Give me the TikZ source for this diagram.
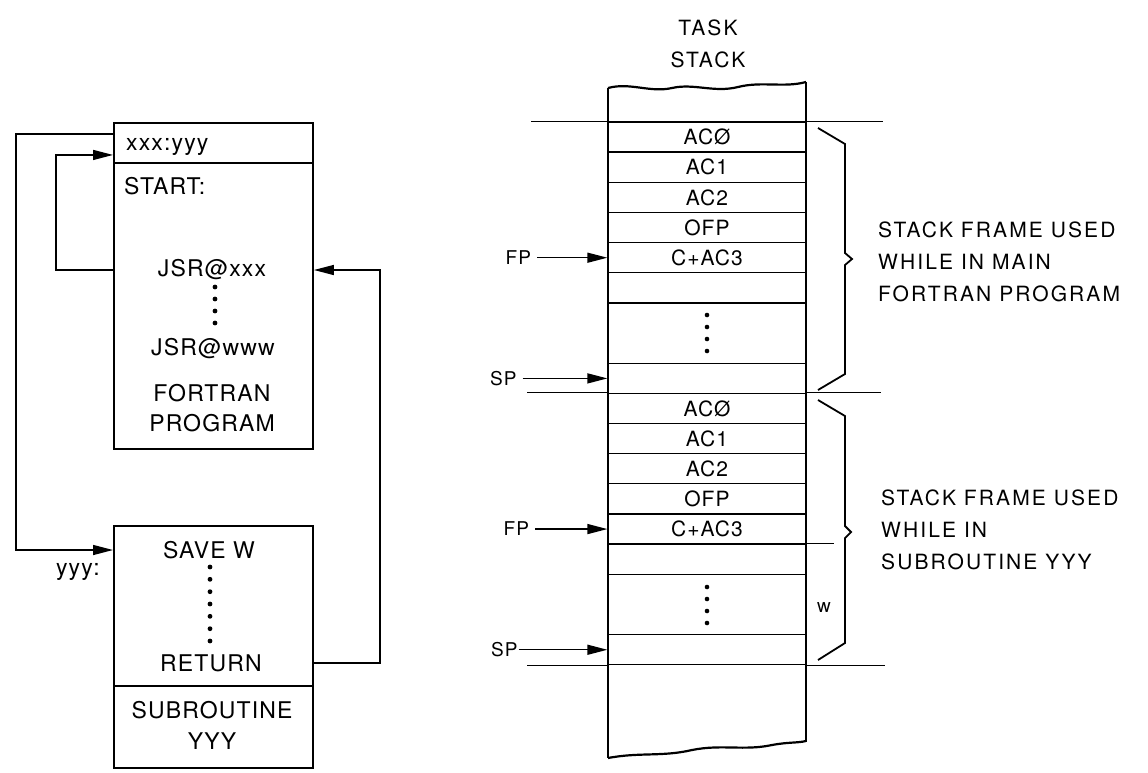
\documentclass[tikz,border=0pt]{standalone}
\usepackage{fontspec}
\setmainfont{TeX Gyre Heros}
\newfontfamily\wideF{TeX Gyre Heros}[LetterSpace=10]
\newfontfamily\boxF{TeX Gyre Heros}[LetterSpace=5]
\usetikzlibrary{arrows.meta,calc}
\begin{document}
\begin{tikzpicture}[x=1pt,y=-1pt,
  box/.style={draw,line width=1.9pt,inner sep=0pt,anchor=north west,minimum width=199pt},
  btxt/.style={font=\boxF\fontsize{23}{27}\selectfont,inner sep=0pt},
  conn/.style={line width=1.4pt},
  arr/.style={line width=1.4pt,-{Triangle[length=20pt,width=10pt]}},
  cell/.style={draw,line width=1.3pt,minimum width=198pt,minimum height=30.15pt,inner sep=0pt,font=\boxF\fontsize{21}{24}\selectfont},
  lbl/.style={inner sep=0pt,font=\boxF\fontsize{19}{22}\selectfont},
  wlbl/.style={inner sep=0pt,align=left,anchor=west,font=\wideF\fontsize{21}{32}\selectfont},
  brace/.style={line width=1.8pt,line join=miter},
  dot/.style={fill=black}
]
\useasboundingbox (0,0) rectangle (1148,772);

% ---------- left: FORTRAN program ----------
\node[box,minimum height=40pt] (hdr) at (113,122) {};
\node[box,minimum height=286pt] (prog) at (113,162) {};
\node[box,minimum height=160pt] (sub) at (113,525) {};
\node[box,minimum height=82pt] (nm) at (113,685) {};

\node[btxt,anchor=west] (xy) at (126,147) {xxx:yyy};
\node[btxt,anchor=west] (start) at (124,186) {START:};
\node[btxt] (jx) at (212,270) {JSR@xxx};
\foreach \yy in {287,299,311,323} \fill[dot] (215,\yy) circle (2.4pt);
\node[btxt] (jw) at (213,349) {JSR@www};
\node[btxt] (fo) at (212,393) {FORTRAN};
\node[btxt] (pg) at (212,423) {PROGRAM};

\node[btxt] (sw) at (209,550) {SAVE W};
\foreach \yy in {567,579.3,591.7,604,616.3,628.7,641} \fill[dot] (210,\yy) circle (2.4pt);
\node[btxt] (rt) at (211,663) {RETURN};
\node[btxt] (su) at (212,710) {SUBROUTINE};
\node[btxt] (yy) at (212,741) {YYY};
\node[btxt] (yl) at (78,572) {yyy:};

\draw[arr] ([yshift=9pt]hdr.west) -- ++(-97,0) |- (sub.west |- sw);
\draw[arr] (prog.west |- jx) -- ++(-57,0) |- ([yshift=-12pt]hdr.west);
\draw[arr] (sub.east |- rt) -- ++(66,0) |- (prog.east |- jx);

% ---------- right: task stack ----------
\node[align=center,inner sep=0pt,font=\wideF\fontsize{21}{32}\selectfont] (ts) at (708,44) {TASK\\STACK};

\node[cell] (r1) at (707,137.1) {ACØ};
\node[cell] (r2) at (707,167.2) {AC1};
\node[cell] (r3) at (707,197.4) {AC2};
\node[cell] (r4) at (707,227.5) {OFP};
\node[cell] (r5) at (707,257.7) {C+AC3};
\node[cell] (r6) at (707,287.8) {};
\node[cell,minimum height=60.3pt] (r7) at (707,333.1) {};
\node[cell] (r8) at (707,378.4) {};
\foreach \yy in {315,327,339,351} \fill[dot] (707,\yy) circle (2.3pt);

\node[cell] (s1) at (707,408.45) {ACØ};
\node[cell] (s2) at (707,438.55) {AC1};
\node[cell] (s3) at (707,468.75) {AC2};
\node[cell] (s4) at (707,498.85) {OFP};
\node[cell] (s5) at (707,529.05) {C+AC3};
\node[cell] (s6) at (707,559.15) {};
\node[cell,minimum height=60.3pt] (s7) at (707,604.45) {};
\node[cell] (s8) at (707,649.75) {};
\foreach \yy in {587,599,611,623} \fill[dot] (707,\yy) circle (2.3pt);

% stack outline with torn ends
\draw[line width=2.2pt] (608,88) -- (608,758);
\draw[line width=2.2pt] (806,82) -- (806,742);
\draw[line width=2.2pt] (608,88) .. controls (630,82) and (650,93) .. (672,88)
   .. controls (694,83) and (714,93) .. (738,87) .. controls (762,81) and (784,88) .. (806,82);
\draw[line width=2.2pt] (608,758) .. controls (640,752) and (662,757) .. (692,750)
   .. controls (722,744) and (744,751) .. (772,745) .. controls (788,742) and (798,743) .. (806,741);

% frame boundary lines
\draw[conn] (r1.north west) -- ++(-76,0);
\draw[conn] (r1.north east) -- ++(76,0);
\draw[conn] (s1.north west) -- ++(-80,0);
\draw[conn] (s1.north east) -- ++(74,0);
\draw[conn] (s8.south west) -- ++(-80,0);
\draw[conn] (s8.south east) -- ++(78,0);
\draw[conn] (s6.north east) -- ++(27,0);

% FP / SP pointers
\node[lbl] (fp1) at ([xshift=-89pt]r5.west) {FP};
\node[lbl] (sp1) at ([xshift=-104pt]r8.west) {SP};
\node[lbl] (fp2) at ([xshift=-91pt]s5.west) {FP};
\node[lbl] (sp2) at ([xshift=-103pt]s8.west) {SP};
\draw[arr] ([xshift=6pt]fp1.east) -- (r5.west);
\draw[arr] ([xshift=6pt]sp1.east) -- (r8.west);
\draw[arr] ([xshift=6pt]fp2.east) -- (s5.west);
\draw[arr] ([xshift=1pt]sp2.east) -- (s8.west);

% braces
\draw[brace] (818,128) -- (845,144) -- (845,253) -- (852,259) -- (845,265) -- (845,374) -- (818,390);
\draw[brace] (818,400) -- (845,416) -- (845,526) -- (851,532) -- (845,538) -- (845,643) -- (818,660);

\node[lbl] (w) at (824,608) {w};

\node[wlbl] (l1) at (878,262) {STACK FRAME USED\\WHILE IN MAIN\\FORTRAN PROGRAM};
\node[wlbl] (l2) at (881,530) {STACK FRAME USED\\WHILE IN\\SUBROUTINE YYY};
\end{tikzpicture}
\end{document}
